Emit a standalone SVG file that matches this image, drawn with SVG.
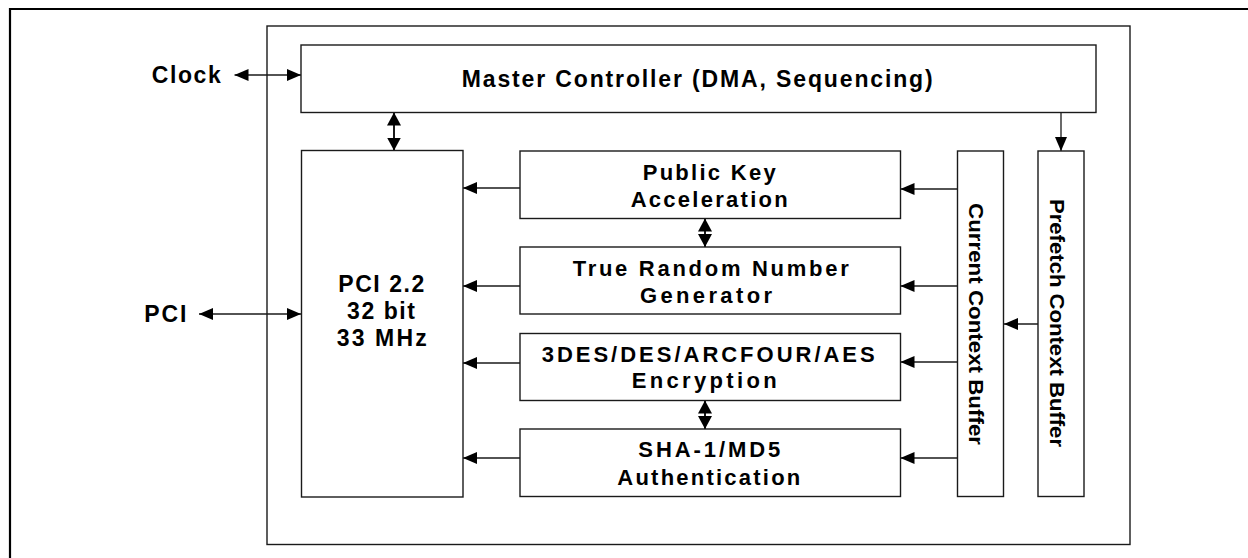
<svg xmlns="http://www.w3.org/2000/svg" width="1248" height="558" viewBox="0 0 1248 558">
  <style>
    .box { fill: #fff; stroke: #1a1a1a; stroke-width: 1.4; }
    .frame { fill: none; stroke: #1a1a1a; stroke-width: 1.4; }
    .border { fill: none; stroke: #000; stroke-width: 2.2; }
    .wire { fill: none; stroke: #1a1a1a; stroke-width: 1.3; }
    .bus { fill: none; stroke: #1a1a1a; stroke-width: 2; }
    .lbl { font-family: "Liberation Sans", Arial, Helvetica, sans-serif; font-weight: bold; font-size: 23px; fill: #000; }
    .mod { font-size: 22px; }
    .vert { font-size: 20px; }
  </style>
  <defs>
    <marker id="ah" markerUnits="userSpaceOnUse" markerWidth="14" markerHeight="12" refX="14" refY="6" orient="auto-start-reverse">
      <path d="M0,0 L14,6 L0,12 Z" fill="#000"/>
    </marker>
    <marker id="ahBig" markerUnits="userSpaceOnUse" markerWidth="13" markerHeight="14" refX="13" refY="7" orient="auto-start-reverse">
      <path d="M0,0 L13,7 L0,14 Z" fill="#000"/>
    </marker>
  </defs>

  <!-- page border and chip outline -->
  <path class="border" d="M10,560 V9 H1250"/>
  <rect class="frame" x="267" y="26" width="863" height="518.5"/>

  <!-- connectors -->
  <g id="connectors">
    <line class="wire" x1="234.5" y1="75" x2="301" y2="75" marker-start="url(#ah)" marker-end="url(#ah)"/>
    <line class="wire" x1="199" y1="314" x2="301" y2="314" marker-start="url(#ah)" marker-end="url(#ah)"/>
    <line class="bus" x1="394" y1="112.5" x2="394" y2="150.5" marker-start="url(#ahBig)" marker-end="url(#ahBig)"/>
    <line class="wire" x1="1061" y1="112.5" x2="1061" y2="151" marker-end="url(#ah)"/>
    <line class="wire" x1="1038" y1="324" x2="1004" y2="324" marker-end="url(#ah)"/>

    <!-- context buffer to engines -->
    <line class="wire" x1="957.5" y1="189" x2="900.5" y2="189" marker-end="url(#ah)"/>
    <line class="wire" x1="957.5" y1="286" x2="900.5" y2="286" marker-end="url(#ah)"/>
    <line class="wire" x1="957.5" y1="362" x2="900.5" y2="362" marker-end="url(#ah)"/>
    <line class="wire" x1="957.5" y1="458" x2="900.5" y2="458" marker-end="url(#ah)"/>

    <!-- engines to PCI -->
    <line class="wire" x1="520" y1="188" x2="463" y2="188" marker-end="url(#ah)"/>
    <line class="wire" x1="520" y1="286" x2="463" y2="286" marker-end="url(#ah)"/>
    <line class="wire" x1="520" y1="363" x2="463" y2="363" marker-end="url(#ah)"/>
    <line class="wire" x1="520" y1="458" x2="463" y2="458" marker-end="url(#ah)"/>

    <!-- engine to engine -->
    <line class="bus" x1="705" y1="218.5" x2="705" y2="247" marker-start="url(#ahBig)" marker-end="url(#ahBig)"/>
    <line class="bus" x1="705" y1="400.5" x2="705" y2="429" marker-start="url(#ahBig)" marker-end="url(#ahBig)"/>
  </g>

  <!-- external signals -->
  <g id="clock">
    <text class="lbl" x="151.7" y="83.3" textLength="69" lengthAdjust="spacing">Clock</text>
  </g>
  <g id="pci-bus">
    <text class="lbl" x="144.3" y="322.3" textLength="42" lengthAdjust="spacing">PCI</text>
  </g>

  <g id="master-controller">
    <rect class="box" x="301" y="45" width="795" height="67.5"/>
    <text class="lbl" x="461.7" y="87.3" textLength="471" lengthAdjust="spacing">Master Controller (DMA, Sequencing)</text>
  </g>

  <g id="pci-core">
    <rect class="box" x="301.5" y="150.5" width="161.5" height="346.5"/>
    <text class="lbl" x="338.3" y="292.3" textLength="86" lengthAdjust="spacing">PCI 2.2</text>
    <text class="lbl" x="347" y="319" textLength="68" lengthAdjust="spacing">32 bit</text>
    <text class="lbl" x="336.7" y="345.7" textLength="90" lengthAdjust="spacing">33 MHz</text>
  </g>

  <g id="public-key">
    <rect class="box" x="520" y="151" width="380.5" height="67.5"/>
    <text class="lbl mod" x="642.7" y="180" textLength="133" lengthAdjust="spacing">Public Key</text>
    <text class="lbl mod" x="630.7" y="207.3" textLength="157" lengthAdjust="spacing">Acceleration</text>
  </g>

  <g id="trng">
    <rect class="box" x="520" y="247" width="380.5" height="67"/>
    <text class="lbl mod" x="572.7" y="276" textLength="276" lengthAdjust="spacing">True Random Number</text>
    <text class="lbl mod" x="640" y="303.3" textLength="132" lengthAdjust="spacing">Generator</text>
  </g>

  <g id="cipher">
    <rect class="box" x="520" y="333.5" width="380.5" height="67"/>
    <text class="lbl mod" x="541.7" y="361.7" textLength="333" lengthAdjust="spacing">3DES/DES/ARCFOUR/AES</text>
    <text class="lbl mod" x="631.7" y="388.3" textLength="145" lengthAdjust="spacing">Encryption</text>
  </g>

  <g id="hash">
    <rect class="box" x="520" y="429" width="380.5" height="67.5"/>
    <text class="lbl mod" x="638.3" y="457.3" textLength="142" lengthAdjust="spacing">SHA-1/MD5</text>
    <text class="lbl mod" x="617.3" y="485" textLength="183" lengthAdjust="spacing">Authentication</text>
  </g>

  <g id="current-context">
    <rect class="box" x="957.5" y="151" width="46" height="345.5"/>
    <text class="lbl vert" transform="translate(968.8,203) rotate(90)" textLength="242" lengthAdjust="spacingAndGlyphs">Current Context Buffer</text>
  </g>

  <g id="prefetch-context">
    <rect class="box" x="1038" y="151" width="46" height="345.5"/>
    <text class="lbl vert" transform="translate(1049.5,199) rotate(90)" textLength="248" lengthAdjust="spacingAndGlyphs">Prefetch Context Buffer</text>
  </g>
</svg>
